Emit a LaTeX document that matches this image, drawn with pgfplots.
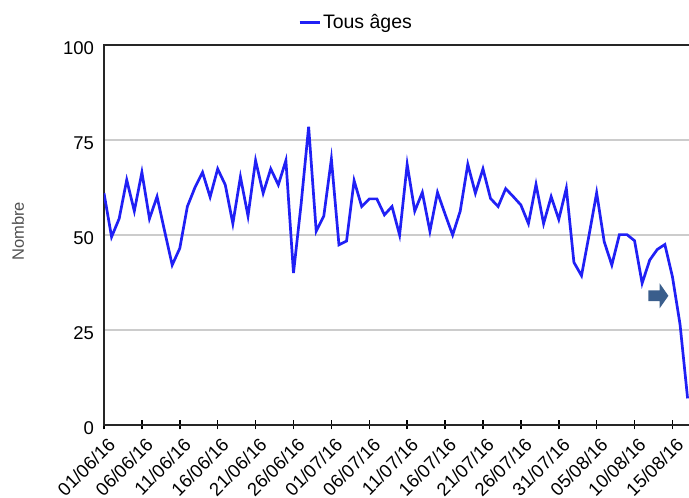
\documentclass[border=0pt]{standalone}
\usepackage{fontspec}
\setmainfont{Liberation Sans}
\usepackage{pgfplots}
\pgfplotsset{compat=1.18}
\usetikzlibrary{shapes.arrows}
\definecolor{serie}{RGB}{32,32,245}
\definecolor{gridgray}{RGB}{204,204,204}
\definecolor{arrowblue}{RGB}{58,94,140}
\definecolor{labelgray}{RGB}{80,80,80}
\begin{document}
\begin{tikzpicture}
\path[use as bounding box] (-104pt,-73pt) rectangle (585pt,425pt);
\begin{axis}[
  /pgf/number format/assume math mode=true,
  scale only axis, width=591.2pt, height=380pt,
  xmin=0, xmax=78, ymin=0, ymax=100,
  xtick={0,5,...,75},
  xticklabels={01/06/16,06/06/16,11/06/16,16/06/16,21/06/16,26/06/16,01/07/16,06/07/16,11/07/16,16/07/16,21/07/16,26/07/16,31/07/16,05/08/16,10/08/16,15/08/16},
  x tick label style={rotate=45, anchor=north east, font=\fontsize{18.5}{18.5}\selectfont, inner sep=1pt, xshift=-2pt, yshift=-6pt},
  ytick={0,25,50,75,100},
  y tick label style={font=\fontsize{18.5}{18.5}\selectfont, xshift=-2pt, yshift=-3pt},
  xtick pos=bottom, ytick pos=left,
  tick align=center, major tick length=9pt,
  x tick style={line width=1.5pt, black},
  y tick style={draw=none},
  ymajorgrids, grid style={gridgray, line width=1.6pt},
  axis line style={line width=1.8pt, black!85},
  ylabel={Nombre},
  every axis y label/.style={at={(axis description cs:-0.1455,0.51)}, rotate=90, anchor=center, font=\fontsize{16.5}{16.5}\selectfont, text=labelgray},
  legend style={at={(axis description cs:0.4265,1.06)}, anchor=center, draw=none, fill=none, font=\fontsize{19.5}{19.5}\selectfont},
  legend image code/.code={\draw[#1] (-8pt,0pt) -- (12pt,0pt);},
]
\addplot[serie, line width=2.7pt, line join=miter] coordinates {
(0,61) (1,49.5) (2,54.3) (3,64.5) (4,56.3) (5,66.5) (6,54.3) (7,60.1) (8,51) (9,42.1)
(10,46.5) (11,57.5) (12,62.5) (13,66.5) (14,60) (15,67.4) (16,63.2) (17,53) (18,65.3) (19,55)
(20,69.6) (21,61) (22,67.4) (23,63.2) (24,69.6) (25,40) (26,58) (27,78.5) (28,51) (29,55)
(30,70) (31,47.4) (32,48.4) (33,64.3) (34,57.5) (35,59.5) (36,59.5) (37,55.3) (38,57.5) (39,50)
(40,68.6) (41,56.3) (42,61.2) (43,51) (44,61.2) (45,55.5) (46,50) (47,56.3) (48,68.6) (49,61)
(50,67.4) (51,59.6) (52,57.5) (53,62.2) (54,60.1) (55,57.9) (56,53) (57,63.3) (58,53) (59,60.1)
(60,54.1) (61,62.3) (62,42.8) (63,39.3) (64,50) (65,61.1) (66,48.2) (67,42.1) (68,50.1) (69,50.1)
(70,48.5) (71,37.3) (72,43.4) (73,46.2) (74,47.5) (75,39) (76,26.5) (77,7)
};
\addlegendentry{Tous âges}
\node[single arrow, fill=arrowblue, draw=none, minimum height=20pt, minimum width=25pt, inner sep=5pt, single arrow head extend=7pt, single arrow tip angle=110] at (axis cs:72.9,34) {};
\end{axis}
\end{tikzpicture}
\end{document}
